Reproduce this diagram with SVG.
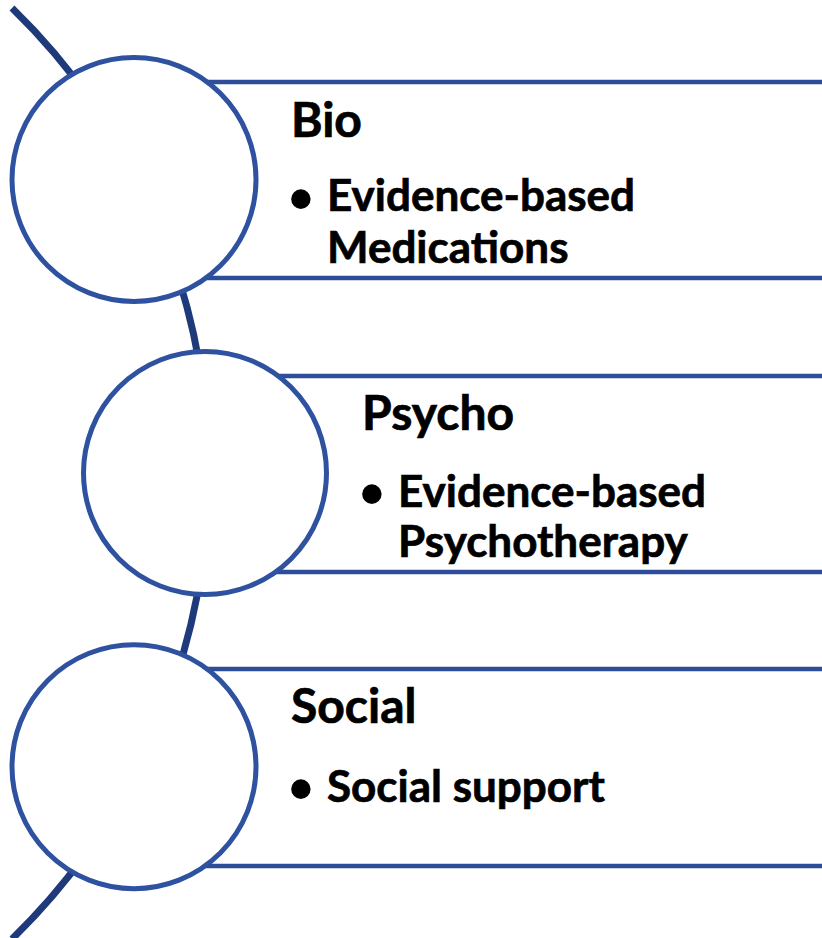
<svg xmlns="http://www.w3.org/2000/svg" width="822" height="938" viewBox="0 0 822 938">
  <style>
    .bg { fill: #ffffff; }
    .spine { fill: none; stroke: #1F3A7B; stroke-width: 7; }
    .rule { stroke: #2D4D98; stroke-width: 4.5; }
    .disc { fill: #ffffff; stroke: #2E51A0; stroke-width: 5; }
    .title { font-family: Lato, "Open Sans", "Liberation Sans", sans-serif; font-weight: 700; font-size: 48px; fill: #000000; stroke: #000000; stroke-width: 0.7; }
    .item { font-family: Lato, "Open Sans", "Liberation Sans", sans-serif; font-weight: 700; font-size: 44px; fill: #000000; stroke: #000000; stroke-width: 0.7; }
    .dot { font-family: "Liberation Sans", Arial, sans-serif; font-weight: 700; font-size: 68px; fill: #000000; }
  </style>
  <rect class="bg" x="0" y="0" width="822" height="938"/>

  <!-- curved spine and horizontal rules behind the circles -->
  <g id="connectors">
    <path class="spine" d="M 12 8 A 649.5 649.5 0 0 1 12 939"/>
    <line class="rule" x1="134" y1="82" x2="822" y2="82"/>
    <line class="rule" x1="134" y1="278" x2="822" y2="278"/>
    <line class="rule" x1="205" y1="376" x2="822" y2="376"/>
    <line class="rule" x1="205" y1="572" x2="822" y2="572"/>
    <line class="rule" x1="134" y1="669" x2="822" y2="669"/>
    <line class="rule" x1="134" y1="866" x2="822" y2="866"/>
  </g>

  <g id="bio">
    <circle class="disc" cx="134" cy="179.5" r="122"/>
    <text class="title" x="291" y="137">Bio</text>
    <text class="dot" x="289" y="222">•</text>
    <text class="item" x="327" y="211">Evidence-based</text>
    <text class="item" x="327" y="263">Medications</text>
  </g>

  <g id="psycho">
    <circle class="disc" cx="205" cy="473" r="121.5"/>
    <text class="title" x="362" y="430">Psycho</text>
    <text class="dot" x="360" y="517">•</text>
    <text class="item" x="398" y="507">Evidence-based</text>
    <text class="item" x="398" y="557">Psychotherapy</text>
  </g>

  <g id="social">
    <circle class="disc" cx="134" cy="766.7" r="122"/>
    <text class="title" x="291" y="723">Social</text>
    <text class="dot" x="289" y="812">•</text>
    <text class="item" x="327" y="802">Social support</text>
  </g>
</svg>
